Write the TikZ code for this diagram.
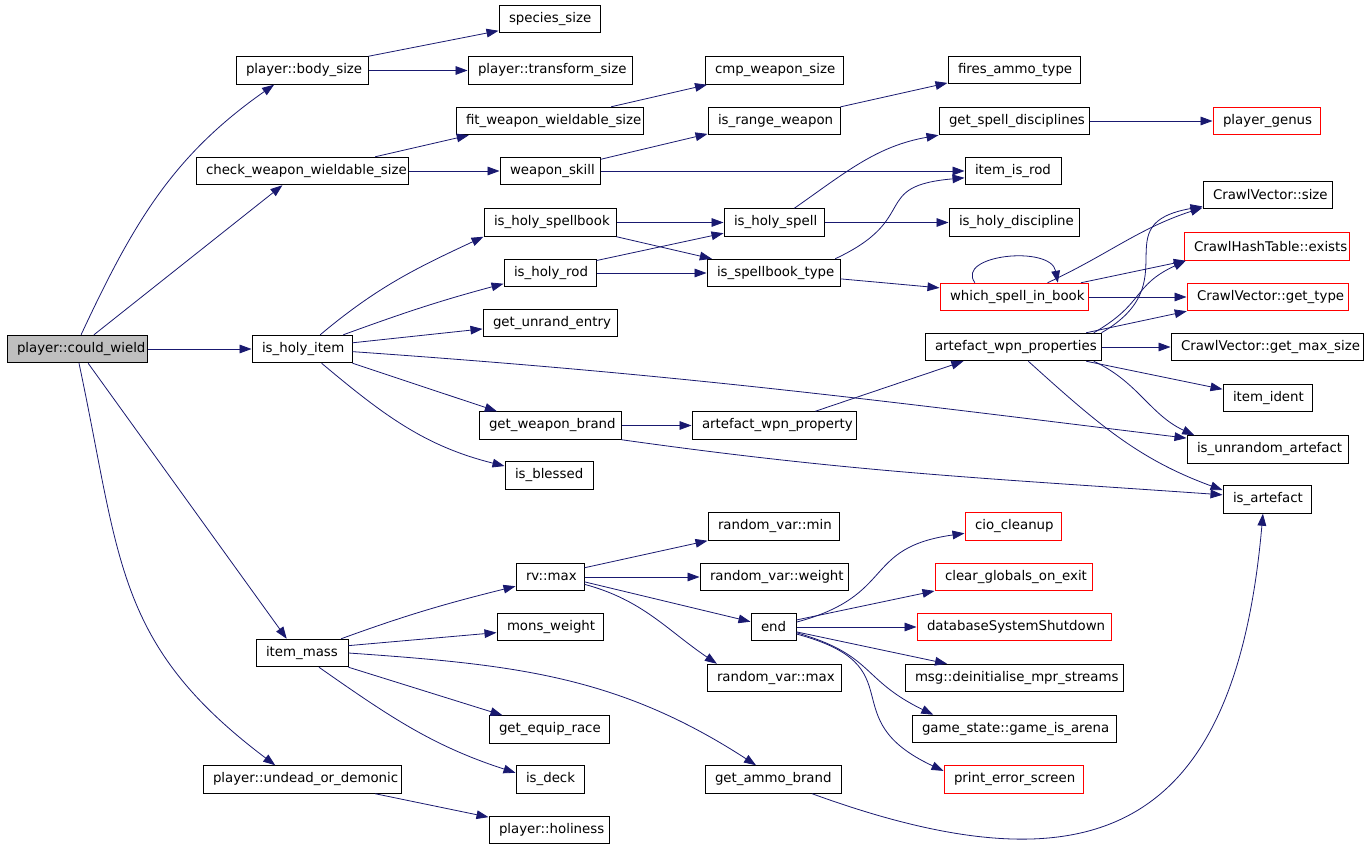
\documentclass[tikz,border=0pt]{standalone}
\usepackage{fontspec}
\setmainfont{DejaVu Sans}
\usetikzlibrary{arrows.meta}
\definecolor{cwgray}{RGB}{191,191,191}
\definecolor{edgeblue}{RGB}{25,25,112}
\tikzstyle{fnode} = [draw, rectangle, line width=0.75pt, font=\fontsize{10}{12}\selectfont, inner xsep=7.5pt, inner ysep=0pt, minimum height=20.6pt, align=left]
\tikzstyle{rnode} = [fnode, draw=red]
\tikzstyle{line} = [draw=edgeblue, line width=0.6pt, -{Triangle[length=9pt,width=6.5pt]}]
\tikzset{bw/.style={text width=#1*0.75pt-15pt}}
\begin{document}
\begin{tikzpicture}[x=0.75pt, y=0.75pt]
			\fill [white] (0,0) rectangle (1368,-848);
			\useasboundingbox (0,0) rectangle (1368,-848);

			\node [fnode, bw=140, fill=cwgray] (couldwield) at (77,-349) {player::could\_wield};
			\node [fnode, bw=132] (bodysize) at (302,-70.5) {player::body\_size};
			\node [fnode, bw=212] (cwws) at (302,-171) {check\_weapon\_wieldable\_size};
			\node [fnode, bw=100] (isholyitem) at (302,-349) {is\_holy\_item};
			\node [fnode, bw=92] (itemmass) at (302,-653) {item\_mass};
			\node [fnode, bw=198] (undead) at (302,-779.5) {player::undead\_or\_demonic};

			\node [fnode, bw=101] (species) at (549.5,-19) {species\_size};
			\node [fnode, bw=164] (transform) at (550,-70.5) {player::transform\_size};
			\node [fnode, bw=187] (fwws) at (549.5,-121) {fit\_weapon\_wieldable\_size};
			\node [fnode, bw=100] (weaponskill) at (550,-171) {weapon\_skill};
			\node [fnode, bw=132] (holyspellbook) at (550,-222.5) {is\_holy\_spellbook};
			\node [fnode, bw=92] (holyrod) at (550,-273) {is\_holy\_rod};
			\node [fnode, bw=134] (unrand) at (550,-323) {get\_unrand\_entry};
			\node [fnode, bw=142] (weaponbrand) at (550,-425.5) {get\_weapon\_brand};
			\node [fnode, bw=88] (blessed) at (549,-475.5) {is\_blessed};
			\node [fnode, bw=68] (rvmax) at (550,-577) {rv::max};
			\node [fnode, bw=106] (monsweight) at (550,-627) {mons\_weight};
			\node [fnode, bw=120] (equiprace) at (549,-729.5) {get\_equip\_race};
			\node [fnode, bw=68] (isdeck) at (550,-779.5) {is\_deck};
			\node [fnode, bw=120] (holiness) at (549,-830) {player::holiness};

			\node [fnode, bw=138] (cmpsize) at (774,-70.5) {cmp\_weapon\_size};
			\node [fnode, bw=132] (rangeweapon) at (774,-121) {is\_range\_weapon};
			\node [fnode, bw=100] (holyspell) at (774,-222.5) {is\_holy\_spell};
			\node [fnode, bw=133] (spellbooktype) at (773.5,-273) {is\_spellbook\_type};
			\node [fnode, bw=164] (wpnproperty) at (774,-425.5) {artefact\_wpn\_property};
			\node [fnode, bw=131] (rvmin) at (773.5,-526.5) {random\_var::min};
			\node [fnode, bw=148] (rvweight) at (774,-577) {random\_var::weight};
			\node [fnode, bw=45] (rvend) at (773.5,-627) {end};
			\node [fnode, bw=134] (rvmaxtwo) at (774,-678) {random\_var::max};
			\node [fnode, bw=136] (ammobrand) at (773,-779.5) {get\_ammo\_brand};

			\node [fnode, bw=132] (firesammo) at (1014,-70) {fires\_ammo\_type};
			\node [fnode, bw=150] (spelldisc) at (1014,-121) {get\_spell\_disciplines};
			\node [fnode, bw=96] (itemisrod) at (1013,-171) {item\_is\_rod};
			\node [fnode, bw=130] (holydisc) at (1014,-222.5) {is\_holy\_discipline};
			\node [rnode, bw=148] (whichspell) at (1014,-297) {which\_spell\_in\_book};
			\node [fnode, bw=176] (wpnproperties) at (1013,-347) {artefact\_wpn\_properties};
			\node [rnode, bw=96] (cio) at (1013,-526.5) {cio\_cleanup};
			\node [rnode, bw=157] (clearglobals) at (1013.5,-577) {clear\_globals\_on\_exit};
			\node [rnode, bw=194] (dbshutdown) at (1014,-627) {databaseSystemShutdown};
			\node [fnode, bw=218] (msgdeinit) at (1014,-678) {msg::deinitialise\_mpr\_streams};
			\node [fnode, bw=204] (arena) at (1014,-729) {game\_state::game\_is\_arena};
			\node [rnode, bw=139] (printerror) at (1013.5,-779.5) {print\_error\_screen};

			\node [rnode, bw=107] (genus) at (1266.5,-121) {player\_genus};
			\node [fnode, bw=129] (cvsize) at (1267.5,-195) {CrawlVector::size};
			\node [rnode, bw=165] (chtexists) at (1266.5,-246.5) {CrawlHashTable::exists};
			\node [rnode, bw=161] (cvgettype) at (1267.5,-297) {CrawlVector::get\_type};
			\node [fnode, bw=192] (cvmaxsize) at (1267,-347) {CrawlVector::get\_max\_size};
			\node [fnode, bw=89] (itemident) at (1267.5,-398) {item\_ident};
			\node [fnode, bw=161] (unrandart) at (1267.5,-449.5) {is\_unrandom\_artefact};
			\node [fnode, bw=88] (isartefact) at (1267,-499.5) {is\_artefact};

			\path [line] (couldwield.74) to[out=65,in=215] (bodysize.207);
			\path [line] (couldwield.40) -- (cwws.216);
			\path [line] (couldwield) -- (isholyitem);
			\path [line] (couldwield.-52) -- (itemmass.137);
			\path [line] (couldwield.-82) to[out=-78,in=143,looseness=1.15] (undead.152);
			\path [line] (bodysize.north east) -- (species.193);
			\path [line] (bodysize) -- (transform);
			\path [line] (cwws.11) -- (fwws.190);
			\path [line] (cwws) -- (weaponskill);
			\path [line] (fwws.13) -- (cmpsize.192);
			\path [line] (weaponskill.13) -- (rangeweapon.191);
			\path [line] (weaponskill) -- (itemisrod);
			\path [line] (rangeweapon.12) -- (firesammo.191);
			\path [line] (isholyitem.38) to[out=40,in=205] (holyspellbook.south west);
			\path [line] (isholyitem.19) to[out=20,in=195] (holyrod.193);
			\path [line] (isholyitem.7) -- (unrand.185);
			\path [line] (isholyitem.-3) to[out=-4,in=173] (unrandart.172);
			\path [line] (isholyitem.south east) -- (weaponbrand.165);
			\path [line] (isholyitem.-36) to[out=-40,in=166] (blessed.168);
			\path [line] (holyspellbook) -- (holyspell);
			\path [line] (holyspellbook.south east) -- (spellbooktype.167);
			\path [line] (holyrod.15) -- (holyspell.192);
			\path [line] (holyrod) -- (spellbooktype);
			\path [line] (holyspell.35) to[out=35,in=190] (spelldisc.south west);
			\path [line] (holyspell) -- (holydisc);
			\path [line] (spellbooktype.13) to[out=25,in=185,looseness=1.6] (itemisrod.188);
			\path [line] (spellbooktype.-5) -- (whichspell.173);
			\path [line] (spelldisc) -- (genus);
			\path [line] (whichspell.160) .. controls +(-20,28) and +(-7,38) .. (whichspell.18);
			\path [line] (whichspell.23) to[out=25,in=198] (cvsize.191);
			\path [line] (whichspell.12) -- (chtexists.190);
			\path [line] (whichspell) -- (cvgettype);
			\path [line] (wpnproperties.north east) to[out=30,in=190,looseness=1.6] (cvsize.190);
			\path [line] (wpnproperties.10) to[out=30,in=205,looseness=1.3] (chtexists.190);
			\path [line] (wpnproperties.11) -- (cvgettype.190);
			\path [line] (wpnproperties) -- (cvmaxsize);
			\path [line] (wpnproperties.-11) -- (itemident.169);
			\path [line] (wpnproperties.-10) to[out=-25,in=155] (unrandart.169);
			\path [line] (wpnproperties.-43) to[out=-42,in=160] (isartefact.168);
			\path [line] (weaponbrand) -- (wpnproperty);
			\path [line] (weaponbrand.south east) to[out=-8,in=176] (isartefact.174);
			\path [line] (wpnproperty.19) -- (wpnproperties.196);
			\path [line] (itemmass.20) to[out=20,in=194] (rvmax.195);
			\path [line] (itemmass.9) -- (monsweight.186);
			\path [line] (itemmass.east) to[out=-4,in=147] (ammobrand.140);
			\path [line] (itemmass.south east) -- (equiprace.163);
			\path [line] (itemmass.-40) to[out=-35,in=162] (isdeck.169);
			\path [line] (rvmax.15) -- (rvmin.south west);
			\path [line] (rvmax) -- (rvweight);
			\path [line] (rvmax.-8) -- (rvend.167);
			\path [line] (rvmax.-12) to[out=-15,in=146] (rvmaxtwo.166);
			\path [line] (rvend.12) to[out=15,in=188,looseness=1.4] (cio.188);
			\path [line] (rvend.17) -- (clearglobals.190);
			\path [line] (rvend) -- (dbshutdown);
			\path [line] (rvend.-12) -- (msgdeinit.168);
			\path [line] (rvend.-14) to[out=-16,in=154,looseness=1.3] (arena.170);
			\path [line] (rvend.-17) to[out=-15,in=155,looseness=1.6] (printerror.173);
			\path [line] (ammobrand.-20) .. controls +(-20:300) and +(-95:320) .. (isartefact.254);
			\path [line] (undead.-11) -- (holiness.168);
		\end{tikzpicture}
\end{document}
